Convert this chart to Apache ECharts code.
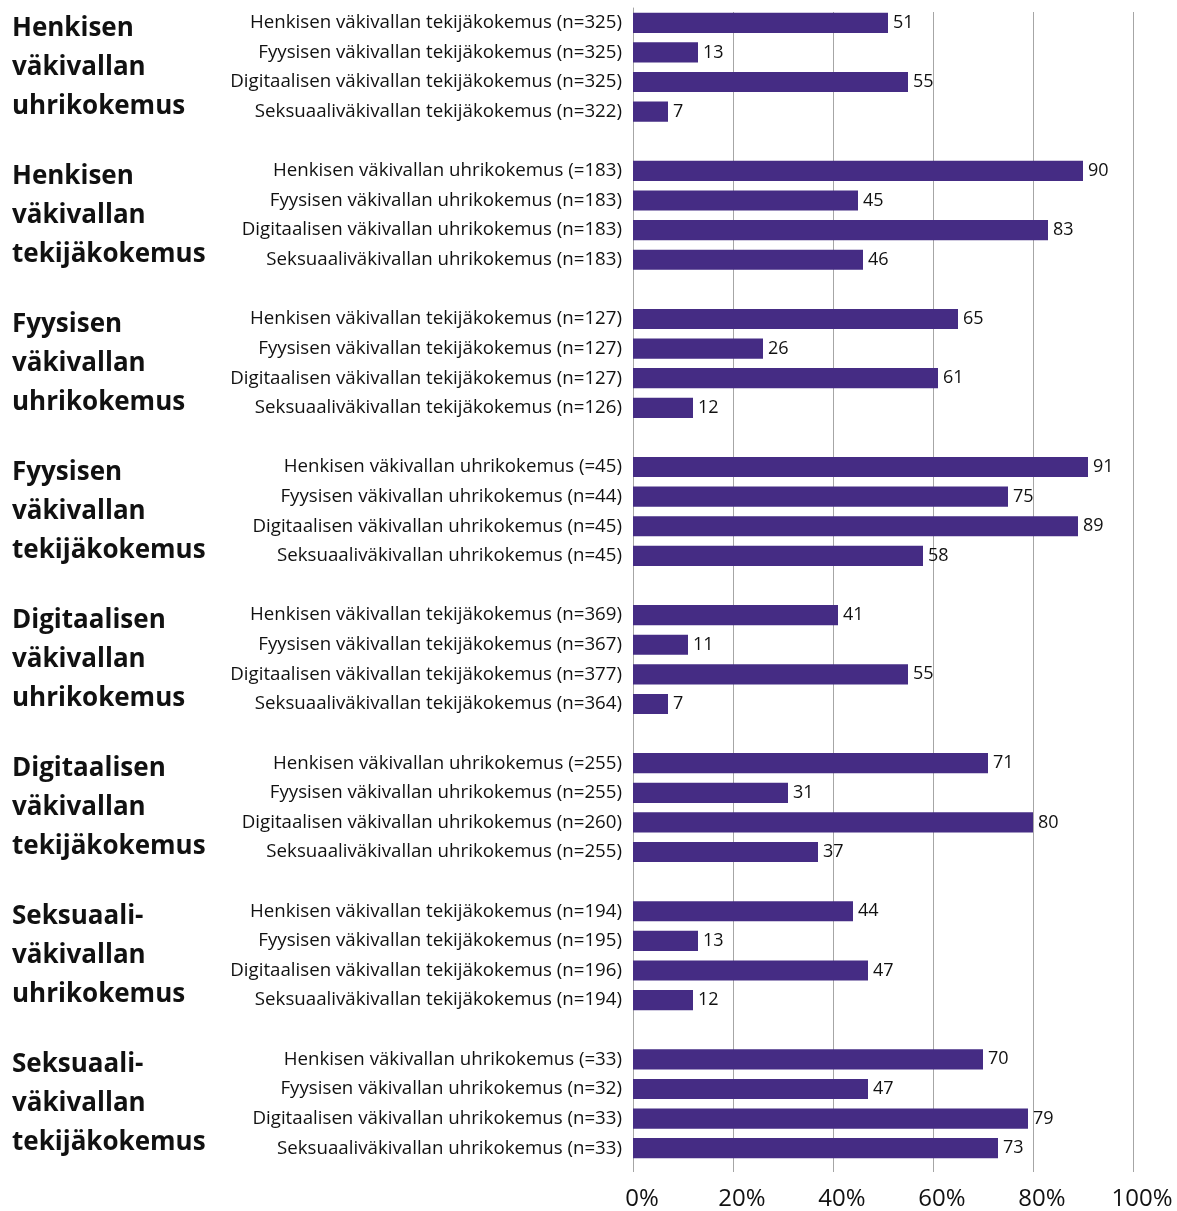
<!DOCTYPE html>
<html><head><meta charset="utf-8">
<script src="https://cdn.jsdelivr.net/npm/echarts@6/dist/echarts.min.js"></script>
<style>html,body{margin:0;padding:0;background:#fff}#c{width:1177px;height:1211px}</style>
</head><body><div id="c"></div>
<script>
const groupNames = [
  'Henkisen\nväkivallan\nuhrikokemus',
  'Henkisen\nväkivallan\ntekijäkokemus',
  'Fyysisen\nväkivallan\nuhrikokemus',
  'Fyysisen\nväkivallan\ntekijäkokemus',
  'Digitaalisen\nväkivallan\nuhrikokemus',
  'Digitaalisen\nväkivallan\ntekijäkokemus',
  'Seksuaali-\nväkivallan\nuhrikokemus',
  'Seksuaali-\nväkivallan\ntekijäkokemus'
];
const g1Labels = ['Henkisen väkivallan tekijäkokemus (n=325)','Fyysisen väkivallan tekijäkokemus (n=325)','Digitaalisen väkivallan tekijäkokemus (n=325)','Seksuaaliväkivallan tekijäkokemus (n=322)'];
const g1Values = [51, 13, 55, 7];
const g2Labels = ['Henkisen väkivallan uhrikokemus (=183)','Fyysisen väkivallan uhrikokemus (n=183)','Digitaalisen väkivallan uhrikokemus (n=183)','Seksuaaliväkivallan uhrikokemus (n=183)'];
const g2Values = [90, 45, 83, 46];
const g3Labels = ['Henkisen väkivallan tekijäkokemus (n=127)','Fyysisen väkivallan tekijäkokemus (n=127)','Digitaalisen väkivallan tekijäkokemus (n=127)','Seksuaaliväkivallan tekijäkokemus (n=126)'];
const g3Values = [65, 26, 61, 12];
const g4Labels = ['Henkisen väkivallan uhrikokemus (=45)','Fyysisen väkivallan uhrikokemus (n=44)','Digitaalisen väkivallan uhrikokemus (n=45)','Seksuaaliväkivallan uhrikokemus (n=45)'];
const g4Values = [91, 75, 89, 58];
const g5Labels = ['Henkisen väkivallan tekijäkokemus (n=369)','Fyysisen väkivallan tekijäkokemus (n=367)','Digitaalisen väkivallan tekijäkokemus (n=377)','Seksuaaliväkivallan tekijäkokemus (n=364)'];
const g5Values = [41, 11, 55, 7];
const g6Labels = ['Henkisen väkivallan uhrikokemus (=255)','Fyysisen väkivallan uhrikokemus (n=255)','Digitaalisen väkivallan uhrikokemus (n=260)','Seksuaaliväkivallan uhrikokemus (n=255)'];
const g6Values = [71, 31, 80, 37];
const g7Labels = ['Henkisen väkivallan tekijäkokemus (n=194)','Fyysisen väkivallan tekijäkokemus (n=195)','Digitaalisen väkivallan tekijäkokemus (n=196)','Seksuaaliväkivallan tekijäkokemus (n=194)'];
const g7Values = [44, 13, 47, 12];
const g8Labels = ['Henkisen väkivallan uhrikokemus (=33)','Fyysisen väkivallan uhrikokemus (n=32)','Digitaalisen väkivallan uhrikokemus (n=33)','Seksuaaliväkivallan uhrikokemus (n=33)'];
const g8Values = [70, 47, 79, 73];
const xTicks = [0, 20, 40, 60, 80, 100];

const groupLabels = [g1Labels,g2Labels,g3Labels,g4Labels,g5Labels,g6Labels,g7Labels,g8Labels];
const groupValues = [g1Values,g2Values,g3Values,g4Values,g5Values,g6Values,g7Values,g8Values];

const categories = [];
const values = [];
const groupCenters = [];
groupLabels.forEach((labs, gi) => {
  if (gi > 0) { categories.push(''); values.push(null); }
  groupCenters.push(categories.length + 2);
  labs.forEach((l, i) => { categories.push(l); values.push(groupValues[gi][i]); });
});
const nCat = categories.length;

const FONT = '"Open Sans", "Noto Sans", sans-serif';
const chart = echarts.init(document.getElementById('c'), null, {renderer: 'canvas'});
chart.setOption({
  animation: false,
  backgroundColor: '#fff',
  grid: [
    {left: 633, right: 44, top: 8, bottom: 48, containLabel: false},
    {left: 633, right: 44, top: 12, bottom: 36, containLabel: false}
  ],
  xAxis: [
    {gridIndex: 0, type: 'value', min: 0, max: 100, show: false},
    {gridIndex: 1, type: 'value', min: xTicks[0], max: xTicks[xTicks.length - 1], interval: 20,
     axisLine: {show: false}, axisTick: {show: false},
     splitLine: {show: true, lineStyle: {color: '#a6a6a6', width: 1}},
     axisLabel: {formatter: v => v + '%', fontFamily: FONT, fontSize: 24, color: '#111', margin: 15,
       padding: [0, 0, 0, 18]}}
  ],
  yAxis: [
    {gridIndex: 0, type: 'category', data: categories, inverse: true,
     axisLine: {show: true, lineStyle: {color: '#a6a6a6'}}, axisTick: {show: false},
     axisLabel: {fontFamily: FONT, fontSize: 18.7, color: '#111', margin: 11}},
    {gridIndex: 0, type: 'value', min: 0, max: nCat, inverse: true, position: 'left',
     axisLine: {show: false}, axisTick: {show: false}, splitLine: {show: false},
     axisLabel: {customValues: groupCenters, align: 'left', margin: 621,
       formatter: (v) => groupNames[groupCenters.indexOf(v)] || '',
       fontFamily: FONT, fontSize: 26, fontWeight: 'bold', color: '#111', lineHeight: 39}},
    {gridIndex: 1, type: 'value', min: 0, max: 1, show: false}
  ],
  series: [{
    type: 'bar', xAxisIndex: 0, yAxisIndex: 0, data: values,
    barCategoryGap: '32%',
    itemStyle: {color: '#452c84'},
    label: {show: true, position: 'right', distance: 5, fontFamily: FONT, fontSize: 18, color: '#111'}
  }]
});
</script></body></html>
